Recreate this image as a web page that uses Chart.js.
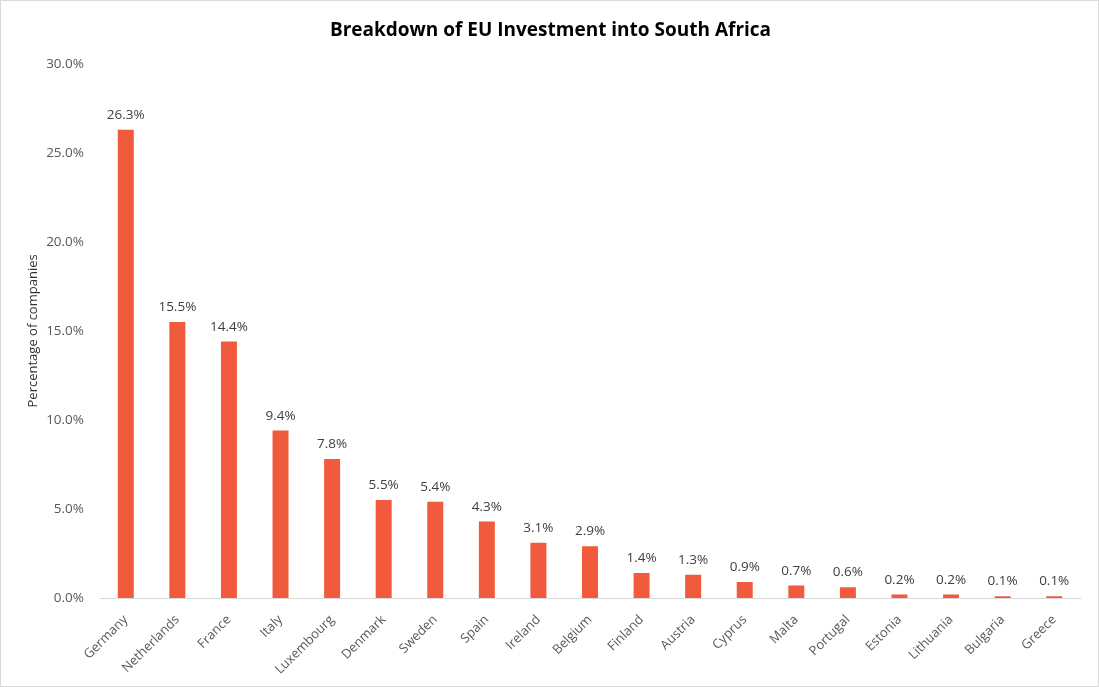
<!DOCTYPE html>
<html>
<head>
<meta charset="utf-8">
<script src="https://cdn.jsdelivr.net/npm/chart.js@4.4.1/dist/chart.umd.min.js"></script>
<style>
  html, body { margin: 0; padding: 0; background: #fff; }
  #wrap { width: 1097px; height: 685px; border: 1px solid #d9d9d9; position: relative; }
</style>
</head>
<body>
<div id="wrap"><canvas id="myChart"></canvas></div>
<script>
// Share of companies by EU source country
const countries = ['Germany', 'Netherlands', 'France', 'Italy', 'Luxembourg', 'Denmark', 'Sweden', 'Spain', 'Ireland',
    'Belgium', 'Finland', 'Austria', 'Cyprus', 'Malta', 'Portugal', 'Estonia', 'Lithuania', 'Bulgaria', 'Greece'];
const shares = [26.3, 15.5, 14.4, 9.4, 7.8, 5.5, 5.4, 4.3, 3.1, 2.9, 1.4, 1.3, 0.9, 0.7, 0.6, 0.2, 0.2, 0.1, 0.1];
const yTicks = [0, 5, 10, 15, 20, 25, 30];

const fontFamily = '"Open Sans", "Segoe UI", sans-serif';

// labels above each bar
const valueLabels = {
    id: 'valueLabels',
    afterDatasetsDraw(chart) {
        const ctx = chart.ctx;
        const meta = chart.getDatasetMeta(0);
        ctx.save();
        ctx.font = '13.5px ' + fontFamily;
        ctx.fillStyle = '#404040';
        ctx.textAlign = 'center';
        ctx.textBaseline = 'bottom';
        meta.data.forEach((bar, i) => {
            ctx.fillText(shares[i].toFixed(1) + '%', bar.x, bar.y - 8);
        });
        ctx.restore();
    }
};

new Chart(document.getElementById('myChart'), {
    type: 'bar',
    data: {
        labels: countries,
        datasets: [{
            data: shares,
            backgroundColor: '#F15A3C',
            barPercentage: 0.31,
            categoryPercentage: 1
        }]
    },
    options: {
        responsive: true,
        maintainAspectRatio: false,
        animation: false,
        layout: { padding: { left: 20, right: 18, bottom: 0 } },
        plugins: {
            legend: { display: false },
            tooltip: { enabled: false },
            title: {
                display: true,
                text: 'Breakdown of EU Investment into South Africa',
                color: '#000',
                font: { family: fontFamily, size: 19, weight: 'bold' },
                padding: { top: 18, bottom: 22 }
            }
        },
        scales: {
            x: {
                grid: { display: false },
                border: { color: '#d9d9d9', width: 1 },
                ticks: {
                    color: '#595959',
                    font: { family: fontFamily, size: 13 },
                    minRotation: 45,
                    maxRotation: 45,
                    padding: 6
                },
                afterFit(scale) { scale.height = 88; }
            },
            y: {
                min: 0,
                max: 30,
                grid: { display: false },
                border: { display: false },
                afterBuildTicks(scale) { scale.ticks = yTicks.map(v => ({ value: v })); },
                ticks: {
                    color: '#595959',
                    font: { family: fontFamily, size: 13.5 },
                    padding: 8,
                    callback: v => v.toFixed(1) + '%'
                },
                title: {
                    display: true,
                    text: 'Percentage of companies',
                    color: '#333',
                    font: { family: fontFamily, size: 13 },
                    padding: { bottom: 6 }
                },
                afterFit(scale) { scale.width = 79; }
            }
        }
    },
    plugins: [valueLabels]
});
</script>
</body>
</html>
